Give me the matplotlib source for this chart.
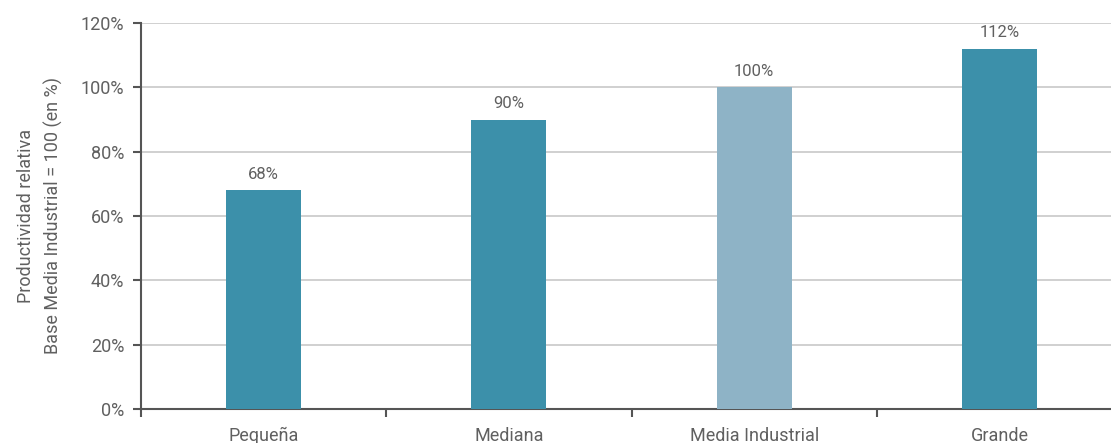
import matplotlib.pyplot as plt
import numpy as np

# Productividad relativa por tamaño de empresa
categorias = ['Pequeña', 'Mediana', 'Media Industrial', 'Grande']
valores = [68, 90, 100, 112]
etiquetas = ['68%', '90%', '100%', '112%']
ticks_y = [0, 20, 40, 60, 80, 100, 120]

plt.rcParams['font.family'] = ['Roboto', 'DejaVu Sans']

color_oscuro = '#3C90AA'
color_claro = '#8EB3C6'
colores = [color_oscuro, color_oscuro, color_claro, color_oscuro]
gris_texto = '#606060'

fig = plt.figure(figsize=(11.11, 4.43), dpi=100)
# el eje se extiende un poco más allá del borde derecho
ax = fig.add_axes([141 / 1111, 34 / 443, 981 / 1111, 386 / 443])

x = np.arange(len(categorias))
ax.bar(x, valores, width=0.306, color=colores, zorder=3)

for xi, v, txt in zip(x, valores, etiquetas):
    ax.annotate(txt, (xi, v), xytext=(0, 6), textcoords='offset points',
                ha='center', va='bottom', fontsize=12, color=gris_texto)

ax.set_xlim(-0.5, len(categorias) - 0.5)
ax.set_ylim(0, 120)
ax.set_yticks(ticks_y)
ax.set_yticklabels([f'{t}%' for t in ticks_y])
ax.yaxis.grid(True, color='#C8C8C8', linewidth=1.2, zorder=0)

# marcas del eje x en los límites entre categorías
ax.set_xticks(x)
ax.set_xticklabels(categorias)
ax.set_xticks(np.arange(len(categorias) + 1) - 0.5, minor=True)
ax.tick_params(axis='x', which='major', length=0, pad=13, labelsize=13, labelcolor=gris_texto)
ax.tick_params(axis='x', which='minor', length=6, width=1.5, color='#555555', direction='out')
ax.tick_params(axis='y', length=6, width=1.5, color='#555555', labelsize=13,
               labelcolor=gris_texto, pad=6)

for lado in ['top', 'right']:
    ax.spines[lado].set_visible(False)
for lado in ['left', 'bottom']:
    ax.spines[lado].set_color('#555555')
    ax.spines[lado].set_linewidth(1.5)

ax.set_ylabel('Productividad relativa\nBase Media Industrial = 100 (en %)',
              fontsize=13, color=gris_texto, labelpad=13, linespacing=1.6)

fig.savefig('out.png', dpi=100)
